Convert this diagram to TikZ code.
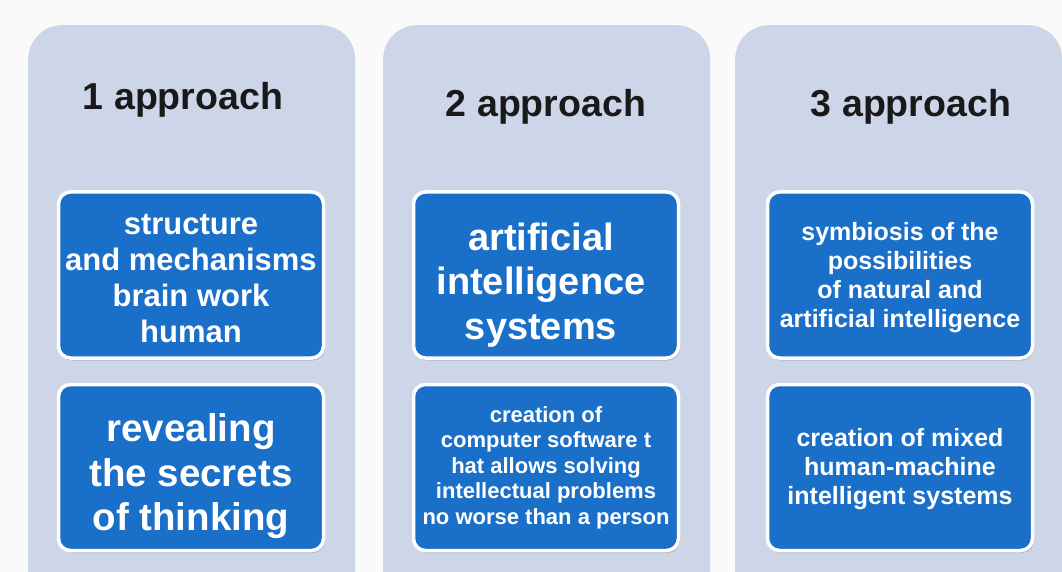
\documentclass[tikz,border=0pt]{standalone}
\usepackage{fontspec}
\setmainfont{Liberation Sans}
\usetikzlibrary{shadows}
\definecolor{colbg}{RGB}{205,213,233}
\definecolor{boxblue}{RGB}{26,111,201}
\definecolor{pagebg}{RGB}{250,250,250}

\begin{document}
\begin{tikzpicture}
[
	x=1pt, y=-1pt,
	col/.style={rectangle,rounded corners=34pt,fill=colbg,minimum width=327pt,minimum height=600pt,anchor=north west,inner sep=0},
	head/.style={anchor=base,font=\fontsize{37.5}{42}\selectfont\bfseries,text=black!90},
	bx/.style={rectangle,rounded corners=12pt,draw=white,line width=3.5pt,fill=boxblue,minimum width=265pt,minimum height=166pt,inner sep=0,drop shadow={opacity=0.35,shadow xshift=1.5pt,shadow yshift=-2.5pt}},
	bxt/.style={text=white,align=center,inner sep=0}
]

\useasboundingbox (0,0) rectangle (1062,572);
\clip (0,0) rectangle (1062,572);
\fill[pagebg] (0,0) rectangle (1062,572);

\node[col] (col1) at (28,25) {};
\node[col] (col2) at (383,25) {};
\node[col] (col3) at (735,25) {};

\node[head] (h1) at (183,110) {1 approach};
\node[head] (h2) at (546,117) {2 approach};
\node[head] (h3) at (911,117) {3 approach};

\node[bx] (t1) at (191,275) {};
\node[bx] (b1) at (191,467.5) {};
\node[bx] (t2) at (546,275) {};
\node[bx] (b2) at (546,467.5) {};
\node[bx] (t3) at (900,275) {};
\node[bx] (b3) at (900,467.5) {};

\node[bxt,font=\fontsize{31}{36}\selectfont\bfseries] (t1txt) at ([yshift=-4pt]t1.center) {structure\\and mechanisms\\brain work\\human};
\node[bxt,font=\fontsize{38.5}{44.5}\selectfont\bfseries] (b1txt) at ([yshift=-9pt]b1.center) {revealing\\the secrets\\of thinking};

\node[bxt,font=\fontsize{38}{44.5}\selectfont\bfseries] (t2txt) at ([xshift=-5pt,yshift=-10pt]t2.center) {artificial\\intelligence\\systems};
\node[bxt,font=\fontsize{22}{25.5}\selectfont\bfseries] (b2txt) at (b2.center) {creation of\\computer software t\\hat allows solving\\intellectual problems\\no worse than a person};

\node[bxt,font=\fontsize{25}{29}\selectfont\bfseries] (t3txt) at ([yshift=-3pt]t3.center) {symbiosis of the\\possibilities\\of natural and\\artificial intelligence};
\node[bxt,font=\fontsize{25}{29}\selectfont\bfseries] (b3txt) at ([yshift=-2pt]b3.center) {creation of mixed\\human-machine\\intelligent systems};

\end{tikzpicture}
\end{document}
